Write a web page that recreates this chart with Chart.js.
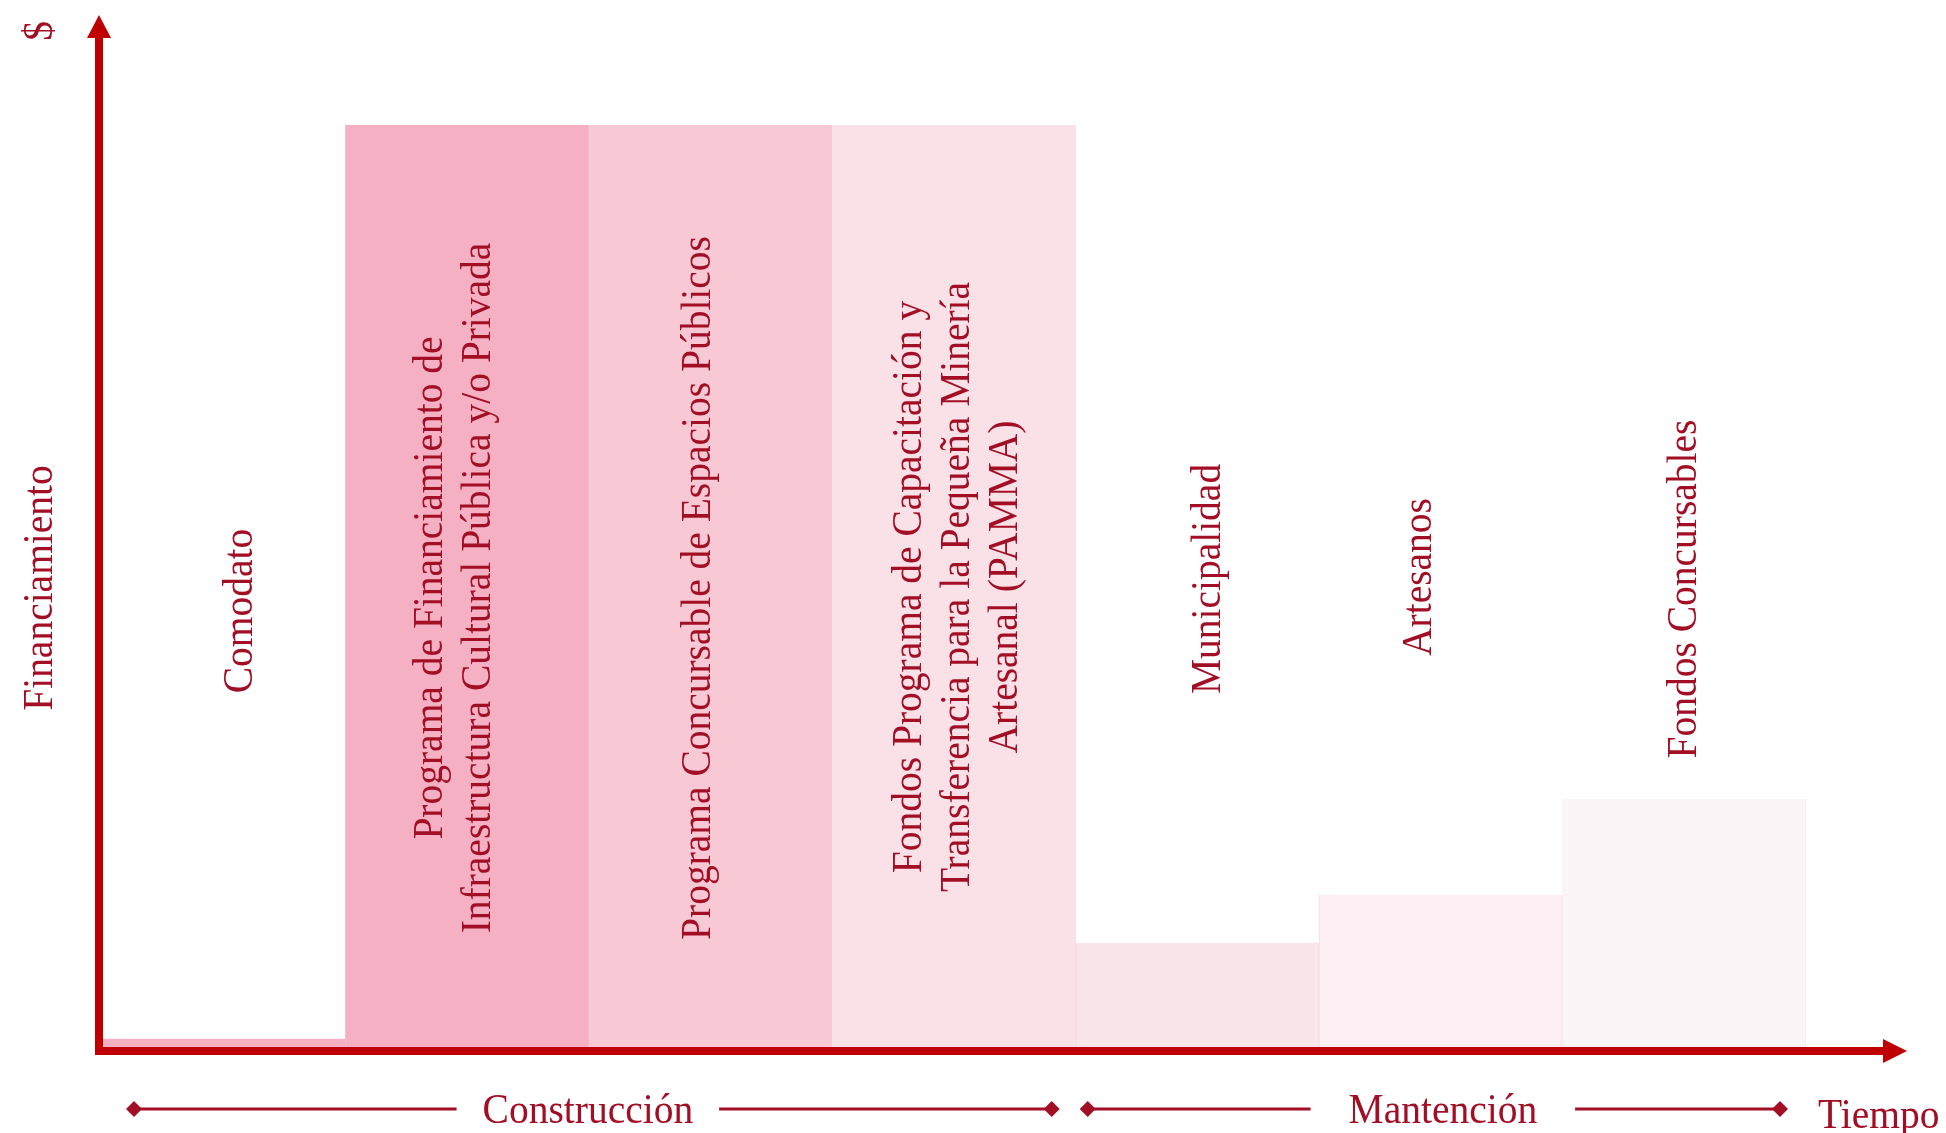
<!DOCTYPE html>
<html>
<head>
<meta charset="utf-8">
<script src="https://cdn.jsdelivr.net/npm/chart.js@4"></script>
<style>
  html, body { margin: 0; padding: 0; background: #ffffff; }
  #wrap { position: relative; width: 1946px; height: 1133px; }
</style>
</head>
<body>
<div id="wrap"><canvas id="c"></canvas></div>
<script>
// ---- data ----
const categories = [
  'Comodato',
  'Programa de Financiamiento de Infraestructura Cultural Pública y/o Privada',
  'Programa Concursable de Espacios Públicos',
  'Fondos Programa de Capacitación y Transferencia para la Pequeña Minería Artesanal (PAMMA)',
  'Municipalidad',
  'Artesanos',
  'Fondos Concursables'
];
const labelLines = [
  ['Comodato'],
  ['Programa de Financiamiento de', 'Infraestructura Cultural Pública y/o Privada'],
  ['Programa Concursable de Espacios Públicos'],
  ['Fondos Programa de Capacitación y', 'Transferencia para la Pequeña Minería', 'Artesanal (PAMMA)'],
  ['Municipalidad'],
  ['Artesanos'],
  ['Fondos Concursables']
];
const financiamiento = [0.9, 100, 100, 100, 11.3, 16.5, 26.9];
const phaseNames = ['Construcción', 'Mantención'];
const phaseFirst = [0, 4];
const phaseLast = [3, 6];
const yAxisTitle = 'Financiamiento';
const yAxisUnit = '$';
const xAxisTitle = 'Tiempo';

// ---- styles ----
const barColors = ['#F5B0C2', '#F5B1C3', '#F8C9D5', '#FAE0E7', '#FAE5EA', '#FCEEF2', '#FCF5F7'];
const barBorders = ['#F5B0C2', '#F5B1C3', '#F8C9D5', '#FAE0E7', '#F5D3DC', '#F8E0E7', '#F9EBEF'];
const textColor = '#A20F25';
const axisColor = '#C00000';
const FONT = '42px "Liberation Serif", "Times New Roman", serif';
const SQX = 0.94;
// label placement tweaks (baseline offset from bar centre, vertical offset)
const labelDx = [28, -1, -0.5, 15, 22.5, -9.5, 11.5];
const labelDy = [25, 2, 2, 1, -7, -9, 3];
const lineGap = 48;
const phaseInset = [[32, 24], [12, 26]];
const phaseTextDx = [-5, 9];
const phaseGap = [26, 38];

function drawText(ctx, text, x, y, rotated, align) {
  ctx.save();
  ctx.translate(x, y);
  if (rotated) ctx.rotate(-Math.PI / 2);
  ctx.scale(SQX, 1);
  ctx.textAlign = align;
  ctx.textBaseline = 'alphabetic';
  ctx.fillText(text, 0, 0);
  ctx.restore();
}

const decor = {
  id: 'decor',
  afterDatasetsDraw(chart) {
    const ctx = chart.ctx;
    const area = chart.chartArea;
    const meta = chart.getDatasetMeta(0);
    const cy = (area.top + area.bottom) / 2;
    ctx.save();
    ctx.font = FONT;
    ctx.fillStyle = textColor;
    // bar labels
    meta.data.forEach((bar, i) => {
      const lines = labelLines[i];
      const n = lines.length;
      lines.forEach((ln, k) => {
        const bx = bar.x + labelDx[i] + (k - (n - 1) / 2) * lineGap;
        drawText(ctx, ln, bx, cy + labelDy[i], true, 'center');
      });
    });
    // axes
    const ax = 99, ay = 1051, lw = 8;
    ctx.fillStyle = axisColor;
    ctx.fillRect(ax - lw / 2, 36, lw, ay + lw / 2 - 36);
    ctx.beginPath();
    ctx.moveTo(ax, 15); ctx.lineTo(ax + 12, 38); ctx.lineTo(ax - 12, 38); ctx.closePath();
    ctx.fill();
    ctx.fillRect(ax - lw / 2, ay - lw / 2, 1885 - (ax - lw / 2), lw);
    ctx.beginPath();
    ctx.moveTo(1907, ay); ctx.lineTo(1883, ay - 12); ctx.lineTo(1883, ay + 12); ctx.closePath();
    ctx.fill();
    // axis titles
    ctx.fillStyle = textColor;
    drawText(ctx, yAxisTitle, 52, cy + 2, true, 'center');
    drawText(ctx, yAxisUnit, 52, 31, true, 'center');
    drawText(ctx, xAxisTitle, 1818, 1128, false, 'left');
    // phases
    const ly = 1109;
    const half = meta.data[0].width / 2;
    phaseNames.forEach((name, p) => {
      const x0 = meta.data[phaseFirst[p]].x - half + phaseInset[p][0];
      const x1 = meta.data[phaseLast[p]].x + half - phaseInset[p][1];
      const mid = (x0 + x1) / 2 + phaseTextDx[p];
      const tw = ctx.measureText(name).width * SQX;
      const gap = phaseGap[p];
      ctx.strokeStyle = textColor;
      ctx.lineWidth = 3;
      ctx.beginPath();
      ctx.moveTo(x0, ly); ctx.lineTo(mid - tw / 2 - gap, ly);
      ctx.moveTo(mid + tw / 2 + gap, ly); ctx.lineTo(x1, ly);
      ctx.stroke();
      [x0, x1].forEach(dx => {
        ctx.beginPath();
        ctx.moveTo(dx - 8, ly); ctx.lineTo(dx, ly - 8); ctx.lineTo(dx + 8, ly); ctx.lineTo(dx, ly + 8);
        ctx.closePath(); ctx.fill();
      });
      drawText(ctx, name, mid, 1123, false, 'center');
    });
    ctx.restore();
  }
};

new Chart(document.getElementById('c'), {
  type: 'bar',
  data: {
    labels: categories,
    datasets: [{
      data: financiamiento,
      backgroundColor: barColors,
      borderColor: barBorders,
      borderWidth: { left: 1, right: 1, top: 0, bottom: 0 },
      borderSkipped: false,
      barPercentage: 1,
      categoryPercentage: 1
    }]
  },
  options: {
    responsive: true,
    maintainAspectRatio: false,
    animation: false,
    layout: { padding: { left: 102, right: 140, top: 125, bottom: 86 } },
    plugins: { legend: { display: false }, tooltip: { enabled: false } },
    scales: {
      x: { display: false },
      y: { display: false, min: 0, max: 100 }
    }
  },
  plugins: [decor]
});
</script>
</body>
</html>
